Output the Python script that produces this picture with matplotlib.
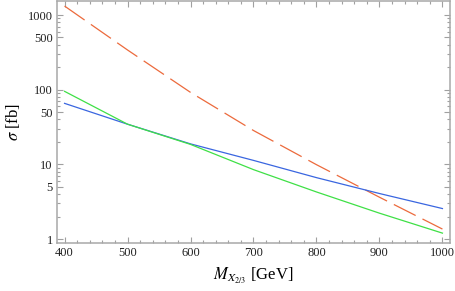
import matplotlib
matplotlib.use("Agg")
import matplotlib.pyplot as plt
from matplotlib.ticker import FixedLocator, NullFormatter, FixedFormatter, MultipleLocator

mass = [400, 500, 600, 700, 800, 900, 1000]
sigma_red = [1318, 340, 92, 28.4, 9.9, 3.63, 1.36]
sigma_blue = [65.6, 34.5, 18.8, 11.3, 6.64, 4.07, 2.56]
sigma_green = [95, 34.5, 18.5, 8.5, 4.27, 2.22, 1.2]

yticks_major = [1, 5, 10, 50, 100, 500, 1000]
ytick_labels = ["1", "5", "10", "50", "100", "500", "1000"]
xticks_major = [400, 500, 600, 700, 800, 900, 1000]

plt.rcParams['font.family'] = ['Liberation Serif', 'DejaVu Serif']
plt.rcParams['mathtext.fontset'] = 'stix'
plt.rcParams['lines.scale_dashes'] = False

fig = plt.figure(figsize=(4.55, 2.91), dpi=100)
ax = fig.add_axes([57/455, 1 - 243/291, 393/455, 242/291])

ax.plot(mass, sigma_red, color='#EC6A3C', lw=0.9, dashes=(17.6, 5.5))
ax.plot(mass, sigma_blue, color='#3A66E0', lw=0.9)
ax.plot(mass, sigma_green, color='#3FE046', lw=0.9)

ax.set_yscale('log')
ax.set_xlim(388, 1012)
ax.set_ylim(0.885, 1540)

minor_y = []
for dec in [1, 10, 100, 1000]:
    for k in range(1, 10):
        v = dec * k
        if v not in yticks_major and v <= 1540:
            minor_y.append(v)
ax.yaxis.set_major_locator(FixedLocator(yticks_major))
ax.yaxis.set_major_formatter(FixedFormatter(ytick_labels))
ax.yaxis.set_minor_locator(FixedLocator(minor_y))
ax.yaxis.set_minor_formatter(NullFormatter())
ax.xaxis.set_major_locator(FixedLocator(xticks_major))
ax.xaxis.set_minor_locator(MultipleLocator(20))

for s in ax.spines.values():
    s.set_color('#a8a8a8')
    s.set_linewidth(1.1)

ax.tick_params(which='both', direction='in', top=True, right=True, color='#a0a0a0', width=0.8, labelsize=9, labelcolor='#222222')
ax.tick_params(which='major', length=4.5, pad=3)
ax.tick_params(which='minor', length=2.5)

ax.set_ylabel(r'$\sigma$ [fb]', fontsize=12)
ax.yaxis.set_label_coords(-0.089, 0.5)
ax.set_xlabel(r'$M_{X_{2/3}}$ [GeV]', fontsize=12)
ax.xaxis.set_label_coords(0.5, -0.095)

fig.savefig('out.png', dpi=100)
